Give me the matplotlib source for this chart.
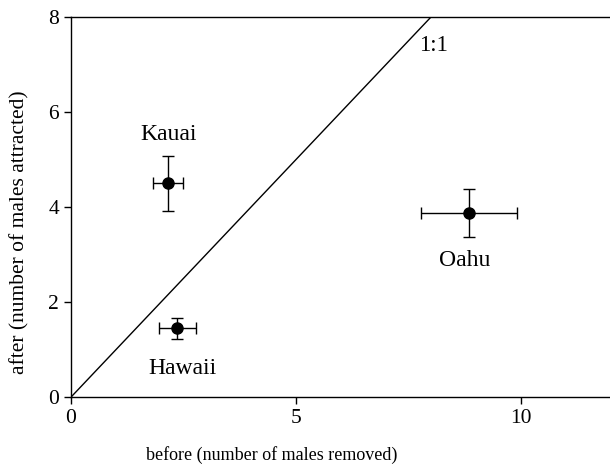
import matplotlib
matplotlib.use("Agg")
import matplotlib.pyplot as plt

plt.rcParams['font.family'] = ['Liberation Serif', 'DejaVu Serif']

islands = ["Kauai", "Hawaii", "Oahu"]
before = [2.16, 2.36, 8.84]
before_err = [0.33, 0.41, 1.07]
after = [4.5, 1.45, 3.88]
after_err = [0.58, 0.22, 0.5]
label_pos = [(2.17, 5.52), (2.47, 0.61), (8.74, 2.88)]

fig = plt.figure(figsize=(6.1, 4.75), dpi=100)
ax = fig.add_axes([0.1164, 0.164, 0.885, 0.8])

# 1:1 reference line
ax.plot([0, 8], [0, 8], color="black", lw=1)
ax.text(8.06, 7.41, "1:1", ha="center", va="center", fontsize=16.5)

ax.errorbar(before, after, xerr=before_err, yerr=after_err, fmt="o",
            color="black", ms=8, elinewidth=1, capsize=4.5, capthick=1)
for name, (tx, ty) in zip(islands, label_pos):
    ax.text(tx, ty, name, ha="center", va="center", fontsize=17)

ax.set_xlim(0, 12)
ax.set_ylim(0, 8)
ax.set_xticks([0, 5, 10])
ax.set_yticks([0, 2, 4, 6, 8])
ax.spines['right'].set_visible(False)
for s in ['left', 'bottom', 'top']:
    ax.spines[s].set_linewidth(1)
ax.tick_params(direction="out", length=5, width=1, labelsize=15.5)
ax.set_xlabel("before (number of males removed)", fontsize=13, va="center")
ax.set_ylabel("after (number of males attracted)", fontsize=15.5, va="center")
ax.xaxis.set_label_coords(0.372, -0.153)
ax.yaxis.set_label_coords(-0.094, 0.434)

fig.savefig("out.png", dpi=100)
